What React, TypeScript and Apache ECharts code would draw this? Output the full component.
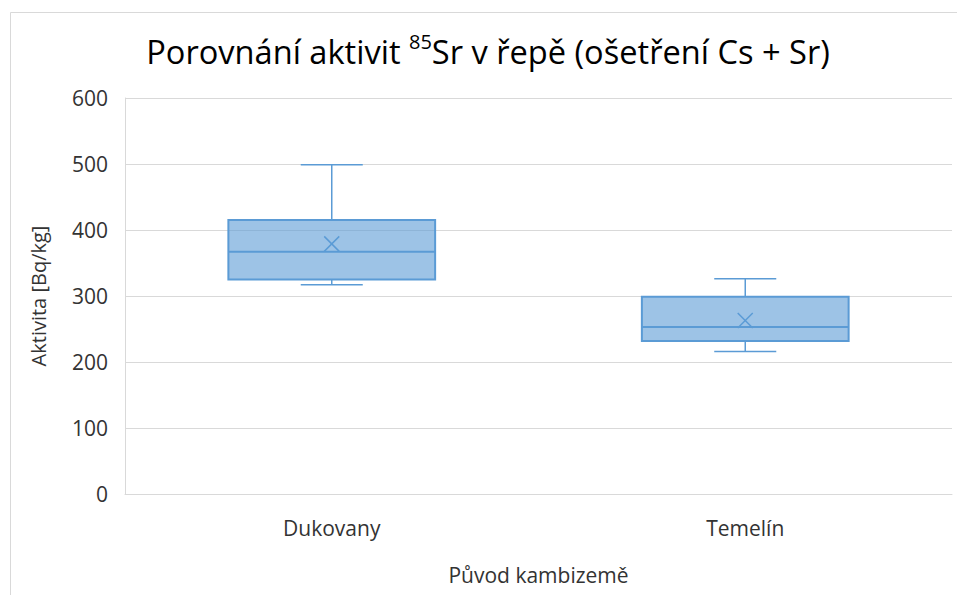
import React, { useEffect, useRef } from "react";
import * as echarts from "echarts";

const categories = ["Dukovany", "Temelín"];
const minValues = [317, 216];
const q1Values = [325, 232];
const medianValues = [367, 253];
const q3Values = [415, 299];
const maxValues = [499, 326];
const meanValues = [379, 263];
const yTicks = { min: 0, max: 600, interval: 100 };

const FONT = "'Open Sans', 'Noto Sans', sans-serif";
const BLUE = "#5B9BD5";
const TEXT = "#333333";

export default function App() {
  const ref = useRef<HTMLDivElement>(null);
  useEffect(() => {
    if (!ref.current) return;
    const chart = echarts.init(ref.current, null, { renderer: "svg" });
    const data = categories.map((c, i) => [
      i,
      minValues[i],
      q1Values[i],
      medianValues[i],
      q3Values[i],
      maxValues[i],
      meanValues[i],
    ]);
    chart.setOption({
      animation: false,
      backgroundColor: "#fff",
      grid: { left: 125, top: 98, right: 5, bottom: 101 },
      graphic: [
        {
          type: "rect",
          shape: { x: 10.5, y: 12.5, width: 1200, height: 1200 },
          style: { fill: "none", stroke: "#d9d9d9", lineWidth: 1 },
          silent: true,
          z: -1,
        },
        {
          type: "text",
          x: 488,
          y: 51,
          style: {
            text: "{a|Porovnání aktivit }{s|85}{a|Sr v řepě (ošetření Cs + Sr)}",
            align: "center",
            verticalAlign: "middle",
            rich: {
              a: { fontSize: 32.6, fontFamily: FONT, fill: "#000", lineHeight: 40 },
              s: { fontSize: 20, fontFamily: FONT, fill: "#000", verticalAlign: "top", lineHeight: 20 },
            },
          },
        },
      ],
      xAxis: {
        type: "category",
        data: categories,
        name: "Původ kambizemě",
        nameLocation: "middle",
        nameGap: 70,
        nameTextStyle: { fontFamily: FONT, fontSize: 21, color: TEXT },
        axisLine: { show: true, lineStyle: { color: "#d9d9d9" } },
        axisTick: { show: false },
        axisLabel: { fontFamily: FONT, fontSize: 21, color: TEXT, margin: 23 },
        splitLine: { show: false },
      },
      yAxis: {
        type: "value",
        min: yTicks.min,
        max: yTicks.max,
        interval: yTicks.interval,
        name: "Aktivita [Bq/kg]",
        nameLocation: "middle",
        nameGap: 77,
        nameTextStyle: { fontFamily: FONT, fontSize: 20, color: TEXT },
        axisLine: { show: true, lineStyle: { color: "#d9d9d9" } },
        axisTick: { show: false },
        axisLabel: { fontFamily: FONT, fontSize: 21, color: TEXT, margin: 17 },
        splitLine: { show: true, lineStyle: { color: "#d9d9d9", width: 1 } },
      },
      series: [
        {
          type: "custom",
          data,
          renderItem: (params: any, api: any) => {
            const xi = api.value(0);
            const band = api.size([1, 0])[0];
            const boxW = band * 0.5;
            const capW = band * 0.15;
            const pMin = api.coord([xi, api.value(1)]);
            const pQ1 = api.coord([xi, api.value(2)]);
            const pMed = api.coord([xi, api.value(3)]);
            const pQ3 = api.coord([xi, api.value(4)]);
            const pMax = api.coord([xi, api.value(5)]);
            const pMean = api.coord([xi, api.value(6)]);
            const cx = pMed[0];
            const line = { stroke: BLUE, lineWidth: 1.5 };
            const m = 7.5;
            return {
              type: "group",
              children: [
                { type: "line", shape: { x1: cx, y1: pQ3[1], x2: cx, y2: pMax[1] }, style: line },
                { type: "line", shape: { x1: cx - capW / 2, y1: pMax[1], x2: cx + capW / 2, y2: pMax[1] }, style: line },
                { type: "line", shape: { x1: cx, y1: pQ1[1], x2: cx, y2: pMin[1] }, style: line },
                { type: "line", shape: { x1: cx - capW / 2, y1: pMin[1], x2: cx + capW / 2, y2: pMin[1] }, style: line },
                {
                  type: "rect",
                  shape: { x: cx - boxW / 2, y: pQ3[1], width: boxW, height: pQ1[1] - pQ3[1] },
                  style: { fill: "rgba(91,155,213,0.6)", stroke: BLUE, lineWidth: 2 },
                },
                { type: "line", shape: { x1: cx - boxW / 2, y1: pMed[1], x2: cx + boxW / 2, y2: pMed[1] }, style: { stroke: BLUE, lineWidth: 2 } },
                { type: "line", shape: { x1: pMean[0] - m, y1: pMean[1] - m, x2: pMean[0] + m, y2: pMean[1] + m }, style: line },
                { type: "line", shape: { x1: pMean[0] - m, y1: pMean[1] + m, x2: pMean[0] + m, y2: pMean[1] - m }, style: line },
              ],
            };
          },
        },
      ],
    });
    return () => chart.dispose();
  }, []);
  return (
    <div
      ref={ref}
      style={{ position: "fixed", left: 0, top: 0, width: 957, height: 595 }}
    />
  );
}
